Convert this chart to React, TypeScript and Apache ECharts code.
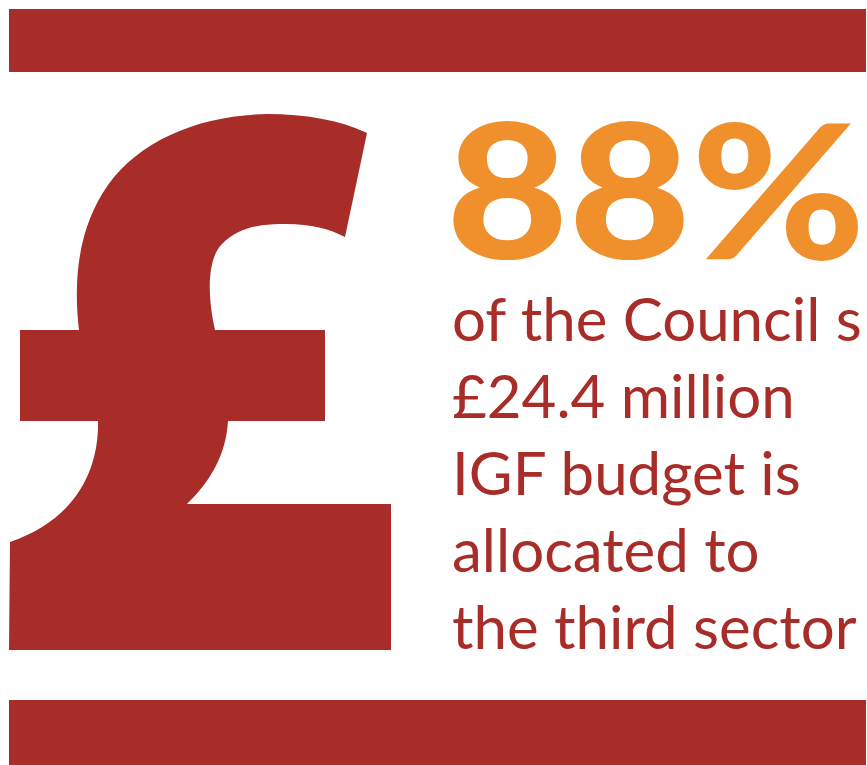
import React, { useEffect, useRef } from "react";
import * as echarts from "echarts";

const headline = "88%";
const bodyLines = [
  "of the Council s",
  "£24.4 million",
  "IGF budget is",
  "allocated to",
  "the third sector",
];

const RED = "#A82C27";
const ORANGE = "#F0902D";

const POUND_D =
  "M 9 650 L 391 650 L 391 504 L 187 504 C 210 482 226 455 228 421 L 325 421 L 325 330 L 215 330 " +
  "C 208 300 206 260 222 244 C 240 226 262 224 287 224 C 310 224 330 229 345 237 L 367 133 " +
  "C 340 120 305 114 267 114 C 200 115 140 140 108 185 C 82 222 72 270 79 330 L 20 330 L 20 421 L 98 421 " +
  "C 99 465 80 518 10 542 Z";

let registered = false;

export default function App() {
  const ref = useRef<HTMLDivElement>(null);
  useEffect(() => {
    document.body.style.margin = "0";
    if (!registered) {
      echarts.graphic.registerShape("pound", echarts.graphic.extendPath(POUND_D, {}) as any);
      registered = true;
    }
    const chart = echarts.init(ref.current!, null, { renderer: "svg" });
    const lineTexts = bodyLines.map((t, i) => ({
      type: "text",
      x: 452,
      y: 318 + i * 77,
      style: {
        text: t,
        fill: RED,
        font: "400 60px Lato",
        verticalAlign: "middle",
        align: "left",
      },
    }));
    chart.setOption({
      animation: false,
      backgroundColor: "#ffffff",
      graphic: [
        { type: "rect", shape: { x: 9, y: 9, width: 857, height: 63 }, style: { fill: RED } },
        { type: "rect", shape: { x: 9, y: 700, width: 857, height: 65 }, style: { fill: RED } },
        { type: "pound", x: 0, y: 0, style: { fill: RED } },
        {
          type: "text",
          x: 446,
          y: 186,
          scaleX: 1.13,
          style: {
            text: headline,
            fill: ORANGE,
            font: "900 187px Lato",
            verticalAlign: "middle",
            align: "left",
          },
        },
        ...lineTexts,
      ],
    });
    return () => chart.dispose();
  }, []);
  return <div ref={ref} style={{ width: 867, height: 765 }} />;
}
